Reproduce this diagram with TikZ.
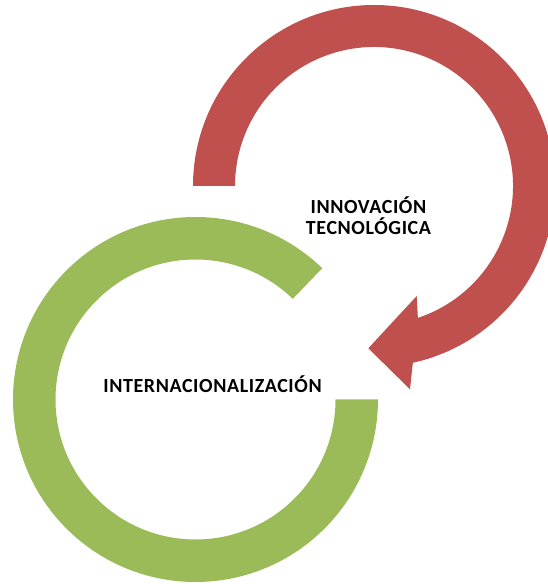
\documentclass[tikz,border=0pt]{standalone}
\usepackage{fontspec}
\setmainfont{Carlito}[LetterSpace=3]
\definecolor{redarrow}{HTML}{C0504D}
\definecolor{greenring}{HTML}{9BBB59}
\tikzset{
  lbl/.style={font=\fontsize{20}{21}\selectfont\bfseries, text=black, inner sep=0pt, align=center},
}
\begin{document}
\begin{tikzpicture}[x=1pt,y=1pt]
\useasboundingbox (0,0) rectangle (548,584);
\clip (0,0) rectangle (548,584);
\coordinate (rc) at (374,398);
\coordinate (gc) at (195.5,184.5);
% green ring
\fill[greenring] ([shift={(46:182.5)}]gc) arc[start angle=46,end angle=360,radius=182.5]
  -- ([shift={(0:140)}]gc) arc[start angle=360,end angle=46,radius=140] -- cycle;
% red circular arrow
\fill[redarrow] ([shift={(180:181)}]rc) arc[start angle=180,end angle=-77.6,radius=181]
  -- (410,194.7) -- (368.3,235.7) -- (416.7,288)
  -- ([shift={(-71.6:139)}]rc) arc[start angle=-71.6,end angle=180,radius=139] -- cycle;
\node[lbl] (intl) at (212.5,199.5) {INTERNACIONALIZACIÓN};
\node[lbl] (innov) at (368.5,368) {INNOVACIÓN\\TECNOLÓGICA};
\end{tikzpicture}
\end{document}
